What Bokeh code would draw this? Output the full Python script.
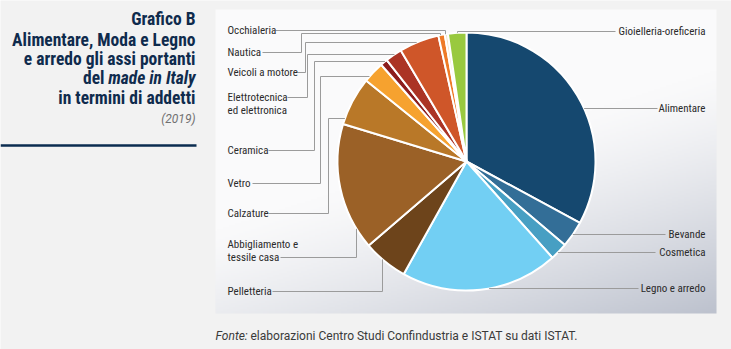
import numpy as np
from bokeh.plotting import figure
from bokeh.models import Range1d
from bokeh.core.properties import value
from bokeh.embed import file_html
from bokeh.resources import INLINE

W, H = 731, 349

# ---------------- data ----------------
categories = ["Alimentare", "Bevande", "Cosmetica", "Legno e arredo", "Pelletteria",
              "Abbigliamento e tessile casa", "Calzature", "Vetro", "Ceramica",
              "Elettrotecnica ed elettronica", "Veicoli a motore", "Nautica",
              "Occhialeria", "Gioielleria-oreficeria"]
display_labels = ["Alimentare", "Bevande", "Cosmetica", "Legno e arredo", "Pelletteria",
                  "Abbigliamento e\ntessile casa", "Calzature", "Vetro", "Ceramica",
                  "Elettrotecnica\ned elettronica", "Veicoli a motore", "Nautica",
                  "Occhialeria", "Gioielleria-oreficeria"]
shares = [32.9, 3.3, 2.2, 19.7, 5.6, 16.0, 6.1, 2.7, 0.9, 2.1, 5.0, 0.8, 0.4, 2.3]
colors = ["#15486f", "#336e97", "#479fc3", "#72cff3", "#6d441b", "#9b6127", "#b97828",
          "#f6a22f", "#8c1d1d", "#ab3425", "#cf5629", "#ee7a27", "#f7e3c6", "#99c93f"]

title_lines = ["Grafico B", "Alimentare, Moda e Legno", "e arredo gli assi portanti"]
title_del = "del"
title_italic = "made in Italy"
title_last = "in termini di addetti"
title_year = "(2019)"
source_label = "Fonte:"
source_text = "elaborazioni Centro Studi Confindustria e ISTAT su dati ISTAT."

# ---------------- layout (screen px, y downward) ----------------
NARROW = "'Liberation Sans Narrow', 'Roboto Condensed', 'DejaVu Sans Condensed', Roboto"
CX, CY, R = 466, 161, 129
PANEL = (215, 9, 716, 313)

def fy(v):
    return H - v

p = figure(width=W, height=H, x_range=Range1d(0, W), y_range=Range1d(0, H),
           output_backend="svg", toolbar_location=None, min_border=0)
p.axis.visible = False
p.grid.visible = False
p.outline_line_color = None
p.background_fill_color = "#f2f2f2"
p.border_fill_color = "#f2f2f2"

# panel gradient background
x0, y0, x1, y1 = PANEL
pw, ph = x1 - x0, y1 - y0
gw, gh = pw // 2, ph // 2
u = np.linspace(0, 1, gw)[None, :]
vv = np.linspace(1, 0, gh)[:, None]  # row 0 = bottom of panel
t = np.clip((0.45 * u + 0.85 * vv - 0.62) / 0.68, 0, 1) ** 1.3
light = np.array([250, 250, 251])
dark = np.array([189, 194, 206])
img = np.empty((gh, gw), dtype=np.uint32)
view = img.view(dtype=np.uint8).reshape((gh, gw, 4))
for k in range(3):
    view[:, :, k] = (light[k] + (dark[k] - light[k]) * t).astype(np.uint8)
view[:, :, 3] = 255
p.image_rgba(image=[img], x=x0, y=fy(y1), dw=pw, dh=ph)

# pie
total = float(sum(shares))
cum = np.concatenate([[0], np.cumsum(shares)]) / total
starts = np.pi / 2 - 2 * np.pi * cum[:-1]
ends = np.pi / 2 - 2 * np.pi * cum[1:]
p.wedge(x=CX, y=fy(CY), radius=R, start_angle=starts, end_angle=ends,
        direction="clock", fill_color=colors, line_color="white", line_width=2)

# leader-line geometry helpers
def edge_h(y, side):
    d = np.sqrt(max(R ** 2 - (y - CY) ** 2, 0))
    return (CX - d, y) if side == "left" else (CX + d, y)

def edge_v(x, side):
    d = np.sqrt(max(R ** 2 - (x - CX) ** 2, 0))
    return (x, CY - d) if side == "top" else (x, CY + d)

# label layout: text x, text y (first line), align, path points, end approach
layout = {
    "Alimentare": (705, 108, "right", [(657, 108)], ("h", "right", 108)),
    "Bevande": (705, 234, "right", [(665, 234)], ("h", "right", 234)),
    "Cosmetica": (705, 252, "right", [(655, 252)], ("h", "right", 252)),
    "Legno e arredo": (705, 288, "right", [(638, 288)], ("h", "right", 288)),
    "Pelletteria": (227, 291, "left", [(272, 291), (382, 291)], ("v", "bottom", 382)),
    "Abbigliamento e tessile casa": (227, 244, "left", [(280, 257), (356, 257)], ("v", "bottom", 356)),
    "Calzature": (227, 213, "left", [(268, 213), (328, 213), (328, 118)], ("h", "left", 118)),
    "Vetro": (227, 183, "left", [(252, 183), (320, 183), (320, 76)], ("h", "left", 76)),
    "Ceramica": (227, 150, "left", [(268, 150), (314, 150), (314, 61)], ("h", "left", 61)),
    "Elettrotecnica ed elettronica": (227, 97, "left", [(287, 97), (307, 97), (307, 54)], ("h", "left", 54)),
    "Veicoli a motore": (227, 72, "left", [(297, 72), (305, 72), (305, 42)], ("h", "left", 42)),
    "Nautica": (227, 52, "left", [(262, 52), (301, 52), (301, 33), (440, 33)], ("v", "top", 440)),
    "Occhialeria": (227, 30, "left", [(275, 30), (445, 30)], ("v", "top", 445)),
    "Gioielleria-oreficeria": (705, 31, "right", [(615, 31), (457, 31)], ("v", "top", 457)),
}

lx, ly, tx, ty, ta = [], [], [], [], []
for cat, lab in zip(categories, display_labels):
    xt, yt, align, pts, end = layout[cat]
    kind, side, c = end
    endpt = edge_h(c, side) if kind == "h" else edge_v(c, side)
    path = pts + [endpt]
    lx.append([q[0] for q in path])
    ly.append([fy(q[1]) for q in path])
    for i, line in enumerate(lab.split("\n")):
        tx.append(xt)
        ty.append(fy(yt + i * 12.8))
        ta.append(line)

p.multi_line(xs=lx, ys=ly, line_color="#9b9b9b", line_width=1)
left_idx = [i for i in range(len(tx)) if tx[i] < 400]
right_idx = [i for i in range(len(tx)) if tx[i] >= 400]
p.text(x=[tx[i] for i in left_idx], y=[ty[i] for i in left_idx], text=[ta[i] for i in left_idx],
       text_font=value(NARROW), text_font_size="11px", text_color="#2b2b2b",
       text_align="left", text_baseline="middle")
p.text(x=[tx[i] for i in right_idx], y=[ty[i] for i in right_idx], text=[ta[i] for i in right_idx],
       text_font=value(NARROW), text_font_size="11px", text_color="#2b2b2b",
       text_align="right", text_baseline="middle")

# title block
TITLE_C = "#0f2b4d"
TS = "17.5px"
p.text(x=[195] * 3, y=[fy(18), fy(39), fy(58)], text=title_lines,
       text_font=value(NARROW), text_font_size=TS, text_font_style="bold",
       text_color=TITLE_C, text_align="right", text_baseline="middle")
p.text(x=[195], y=[fy(77)], text=[title_italic], text_font=value(NARROW),
       text_font_size=TS, text_font_style="bold italic", text_color=TITLE_C,
       text_align="right", text_baseline="middle")
p.text(x=[104], y=[fy(77)], text=[title_del], text_font=value(NARROW),
       text_font_size=TS, text_font_style="bold", text_color=TITLE_C,
       text_align="right", text_baseline="middle")
p.text(x=[195], y=[fy(97)], text=[title_last], text_font=value(NARROW),
       text_font_size=TS, text_font_style="bold", text_color=TITLE_C,
       text_align="right", text_baseline="middle")
p.text(x=[195], y=[fy(118)], text=[title_year], text_font=value("Roboto"),
       text_font_size="12px", text_font_style="italic", text_color="#707070",
       text_align="right", text_baseline="middle")
p.line(x=[0, 196], y=[fy(145), fy(145)], line_color="#0b2d50", line_width=2.5)

# source
p.text(x=[215], y=[fy(335)], text=[source_label], text_font=value("Roboto"),
       text_font_size="12px", text_font_style="italic", text_color="#3a3a3a",
       text_align="left", text_baseline="middle")
p.text(x=[250], y=[fy(335)], text=[source_text], text_font=value("Roboto"),
       text_font_size="12px", text_color="#3a3a3a",
       text_align="left", text_baseline="middle")

open("out.html", "w").write(file_html(p, INLINE))
